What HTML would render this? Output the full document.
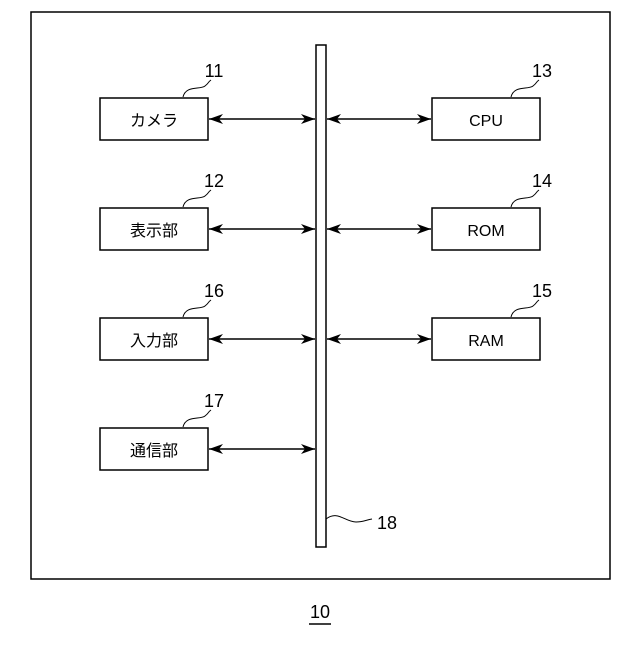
<!DOCTYPE html>
<html><head><meta charset="utf-8"><style>
html,body{margin:0;padding:0;background:#fff;}
text{font-family:"Liberation Sans","Noto Sans CJK JP",sans-serif;fill:#000;}
</style></head><body>
<svg width="640" height="640" viewBox="0 0 640 640" xmlns="http://www.w3.org/2000/svg">
<defs>
<marker id="a" viewBox="0 0 14 10" refX="14" refY="5" markerWidth="14" markerHeight="10" orient="auto-start-reverse" markerUnits="userSpaceOnUse">
<path d="M0,0 L14,5 L0,10 L4,5 Z" fill="#000"/>
</marker>
</defs>
<g fill="none" stroke="#000" stroke-width="1.5">
<rect x="31" y="12" width="579" height="567"/>
<rect x="316" y="45" width="10" height="502"/>
<rect x="100" y="98" width="108" height="42"/>
<rect x="100" y="208" width="108" height="42"/>
<rect x="100" y="318" width="108" height="42"/>
<rect x="100" y="428" width="108" height="42"/>
<rect x="432" y="98" width="108" height="42"/>
<rect x="432" y="208" width="108" height="42"/>
<rect x="432" y="318" width="108" height="42"/>
</g>
<g stroke="#000" stroke-width="1.4" marker-start="url(#a)" marker-end="url(#a)">
<line x1="209" y1="119" x2="315" y2="119"/>
<line x1="209" y1="229" x2="315" y2="229"/>
<line x1="209" y1="339" x2="315" y2="339"/>
<line x1="209" y1="449" x2="315" y2="449"/>
<line x1="327" y1="119" x2="431" y2="119"/>
<line x1="327" y1="229" x2="431" y2="229"/>
<line x1="327" y1="339" x2="431" y2="339"/>
</g>
<g fill="none" stroke="#000" stroke-width="1">
<path d="M183,97 C186,85 200,90 205,86 C209,83 208,82 211,80"/>
<path d="M183,207 C186,195 200,200 205,196 C209,193 208,192 211,190"/>
<path d="M183,317 C186,305 200,310 205,306 C209,303 208,302 211,300"/>
<path d="M183,427 C186,415 200,420 205,416 C209,413 208,412 211,410"/>
<path d="M511,97 C514,85 528,90 533,86 C537,83 536,82 539,80"/>
<path d="M511,207 C514,195 528,200 533,196 C537,193 536,192 539,190"/>
<path d="M511,317 C514,305 528,310 533,306 C537,303 536,302 539,300"/>
<path d="M326,519 C338,510 345,522 356,522 C363,522 366,520 372,519"/>
</g>
<g font-size="16" text-anchor="middle">
<text x="154" y="126">カメラ</text>
<text x="154" y="236">表示部</text>
<text x="154" y="346">入力部</text>
<text x="154" y="456">通信部</text>
<text x="486" y="126">CPU</text>
<text x="486" y="236">ROM</text>
<text x="486" y="346">RAM</text>
</g>
<g font-size="18" text-anchor="middle">
<text x="214" y="77">11</text>
<text x="214" y="187">12</text>
<text x="214" y="297">16</text>
<text x="214" y="407">17</text>
<text x="542" y="77">13</text>
<text x="542" y="187">14</text>
<text x="542" y="297">15</text>
<text x="387" y="529">18</text>
<text x="320" y="618">10</text>
</g>
<line x1="309" y1="624" x2="331" y2="624" stroke="#000" stroke-width="1.5"/>
</svg>
</body></html>
